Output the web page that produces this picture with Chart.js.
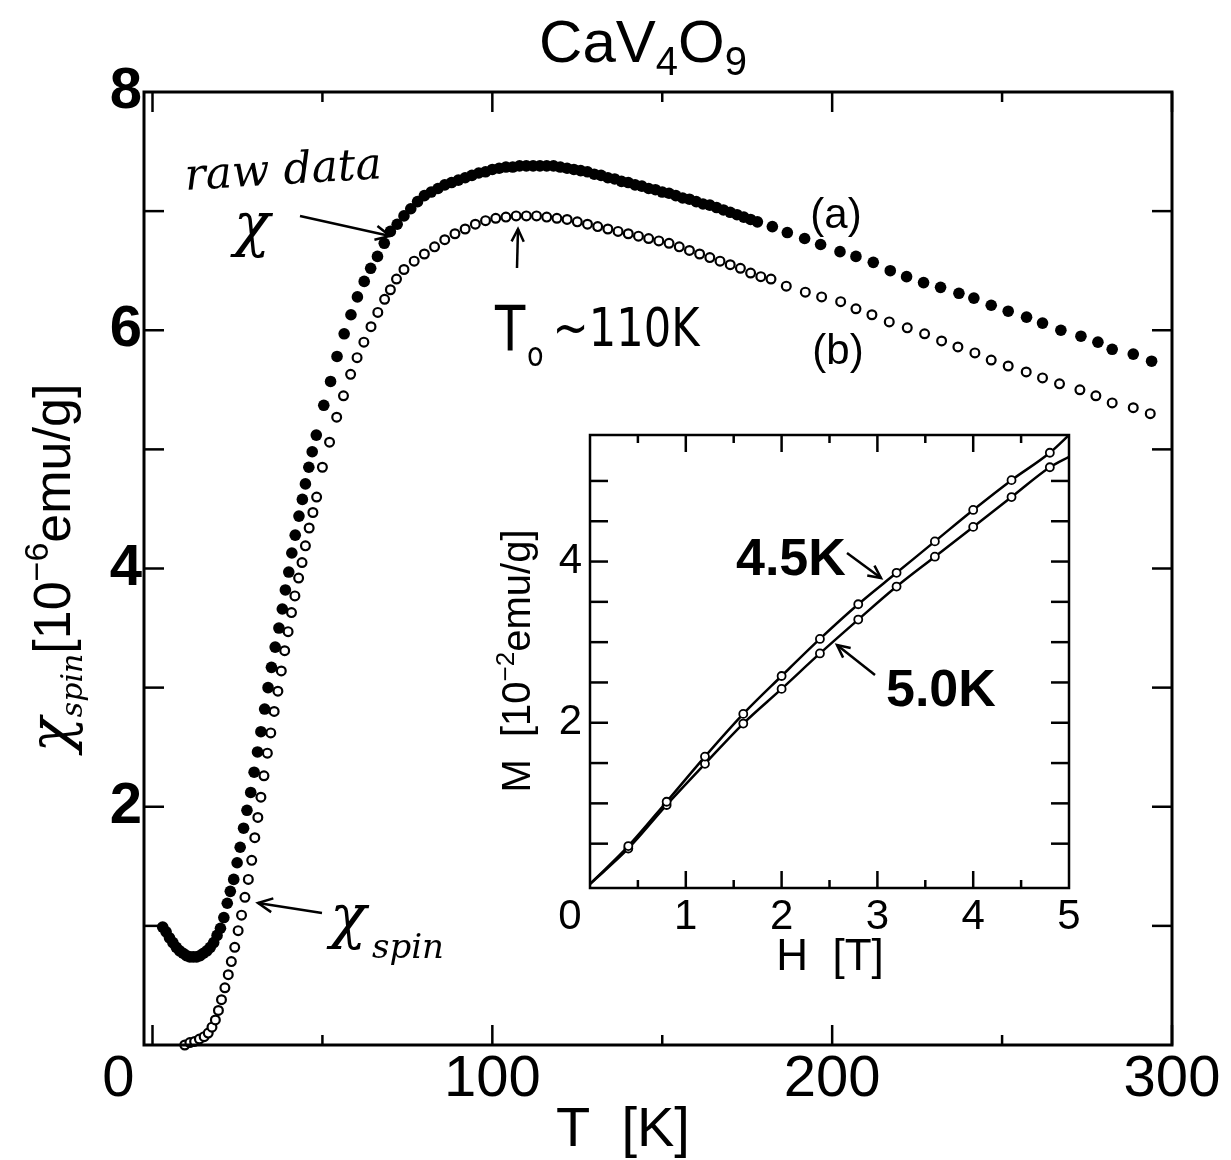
<!DOCTYPE html>
<html><head><meta charset="utf-8">
<script src="https://cdn.jsdelivr.net/npm/chart.js@4/dist/chart.umd.min.js"></script>
<style>
html,body{margin:0;padding:0;background:#fff;}
#wrap{position:relative;width:1231px;height:1160px;background:#fff;}
#main{position:absolute;left:0;top:0;}
#inset{position:absolute;left:490px;top:425px;}
</style></head><body>
<div id="wrap"><canvas id="main" width="1231" height="1160"></canvas><canvas id="inset" width="600" height="560"></canvas></div>
<script>
// ---- main chart data: (a) raw chi (filled), (b) chi_spin (open) ----
const aT = [3,4,5,6,7,8,9,10,11,12,13,14,15,16,17,18,19,20,21,
  22.0,22.9,23.9,24.9,25.8,26.8,27.8,28.9,29.9,30.9,31.9,33.0,34.0,35.0,36.1,37.2,38.2,39.1,40.1,41.0,42.0,43.1,44.1,45.0,46.0,47.0,48.2,
  50.4,52.4,54.3,56.4,58.4,60.3,62.3,64.2,66.2,68.2,
  70,72,74,76,78,80,82,84,86,88,90,92,94,96,98,100,102,104,106,108,110,112,114,116,118,120,122,124,126,128,130,132,134,136,138,140,142,144,146,148,150,152,154,156,158,160,162,164,166,168,170,172,174,176,178,
  182.4,186.8,191.9,196.6,202.3,207.0,212.1,217.1,221.9,226.9,231.9,237.3,241.7,246.8,251.8,257.2,261.9,267.3,273.2,278.2,282.4,288.6,294.0];
const aChi = [0.99,0.95,0.90,0.86,0.82,0.79,0.77,0.75,0.74,0.74,0.74,0.75,0.77,0.79,0.82,0.86,0.92,0.98,1.07,
  1.19,1.29,1.39,1.53,1.66,1.82,1.97,2.12,2.29,2.46,2.63,2.82,3.00,3.17,3.34,3.50,3.66,3.82,3.97,4.13,4.28,4.44,4.58,4.71,4.85,4.98,5.12,
  5.37,5.57,5.78,5.97,6.13,6.28,6.41,6.52,6.62,6.73,
  6.83,6.89,6.96,7.02,7.08,7.13,7.16,7.19,7.22,7.24,7.26,7.28,7.30,7.32,7.33,7.35,7.36,7.37,7.37,7.38,7.38,7.38,7.38,7.38,7.38,7.37,7.36,7.35,7.34,7.33,7.31,7.30,7.28,7.27,7.25,7.24,7.22,7.21,7.19,7.18,7.16,7.15,7.13,7.11,7.10,7.08,7.06,7.05,7.03,7.01,6.99,6.97,6.95,6.93,6.91,
  6.87,6.82,6.77,6.72,6.66,6.62,6.57,6.50,6.45,6.40,6.36,6.31,6.27,6.21,6.16,6.11,6.06,6.00,5.95,5.90,5.84,5.80,5.74];

const bT = [9.5,11.0,12.4,13.8,15.2,16.4,17.5,18.5,19.4,20.3,21.3,22.3,23.2,24.2,25.2,26.2,27.2,28.2,29.2,30.1,31.0,31.9,32.8,33.8,34.8,35.8,36.9,37.9,38.9,39.9,40.9,41.9,43.0,44.0,45.0,46.1,47.2,48.3,
  50.0,52.1,54.2,56.2,58.3,60.2,62.2,64.3,66.3,68.3,70.0,71.8,
  74,77,80,83,86,89,92,95,98,101,104,107,110,113,116,119,122,125,128,131,134,137,140,143,146,149,152,155,158,161,164,167,170,173,176,179,
  182.0,186.5,192.1,196.9,202.5,207.0,211.7,216.8,222.1,227.2,232.2,237.0,242.0,246.8,251.8,257.1,261.9,266.9,272.9,277.6,282.4,288.6,293.6];
const bChi = [0.00,0.02,0.03,0.05,0.07,0.10,0.15,0.21,0.29,0.38,0.48,0.59,0.70,0.82,0.96,1.09,1.24,1.39,1.55,1.74,1.91,2.08,2.26,2.45,2.62,2.80,2.97,3.14,3.31,3.47,3.63,3.77,3.92,4.05,4.19,4.34,4.47,4.60,
  4.85,5.06,5.27,5.45,5.63,5.77,5.90,6.03,6.15,6.26,6.34,6.43,
  6.51,6.58,6.64,6.70,6.76,6.81,6.85,6.89,6.92,6.94,6.95,6.96,6.96,6.96,6.95,6.94,6.93,6.91,6.89,6.87,6.85,6.83,6.81,6.79,6.77,6.75,6.73,6.70,6.67,6.64,6.61,6.58,6.55,6.52,6.48,6.45,
  6.43,6.37,6.32,6.28,6.24,6.18,6.13,6.07,6.02,5.97,5.91,5.86,5.81,5.75,5.70,5.65,5.60,5.55,5.50,5.45,5.39,5.35,5.30];

const xTickLabels = [100, 200, 300];
const xTickMarks = [0, 50, 100, 150, 200, 250, 300];
const yTickLabels = [2, 4, 6, 8];
const yTickMarks = [1, 2, 3, 4, 5, 6, 7];

// ---- inset data: magnetization curves ----
const hField = [0, 0.4, 0.8, 1.2, 1.6, 2.0, 2.4, 2.8, 3.2, 3.6, 4.0, 4.4, 4.8, 5.0];
const m45K = [0, 0.47, 1.02, 1.58, 2.11, 2.58, 3.04, 3.47, 3.86, 4.25, 4.64, 5.01, 5.35, 5.57];
const m50K = [0, 0.44, 0.98, 1.49, 1.99, 2.42, 2.86, 3.28, 3.69, 4.06, 4.43, 4.80, 5.17, 5.30];
const hTickLabels = [1, 2, 3, 4, 5];
const hTickMarks = [0.5, 1, 1.5, 2, 2.5, 3, 3.5, 4, 4.5];
const mTickLabels = [2, 4];
const mTickMarks = [0.5, 1, 1.5, 2, 2.5, 3, 3.5, 4, 4.5, 5];

const pts = (xs, ys) => xs.map((x, i) => ({x: x, y: ys[i]}));
const FONT = "'Liberation Sans', Arial, Helvetica, sans-serif";
const HAND = "'DejaVu Serif', serif";

function arrow(ctx, x1, y1, x2, y2, head) {
  head = head || 14;
  ctx.beginPath(); ctx.moveTo(x1, y1); ctx.lineTo(x2, y2); ctx.stroke();
  const a = Math.atan2(y2 - y1, x2 - x1);
  ctx.beginPath();
  ctx.moveTo(x2 - head * Math.cos(a - 0.45), y2 - head * Math.sin(a - 0.45));
  ctx.lineTo(x2, y2);
  ctx.lineTo(x2 - head * Math.cos(a + 0.45), y2 - head * Math.sin(a + 0.45));
  ctx.stroke();
}

function drawFrame(chart, xMarks, xMajor, xLen, xMinLen, yMarks, yLen, lw) {
  const ctx = chart.ctx, A = chart.chartArea, xs = chart.scales.x, ys = chart.scales.y;
  ctx.save();
  ctx.strokeStyle = '#000'; ctx.lineWidth = lw;
  ctx.strokeRect(A.left, A.top, A.right - A.left, A.bottom - A.top);
  ctx.lineWidth = 2.5;
  xMarks.forEach(v => {
    const px = xs.getPixelForValue(v);
    const len = xMajor(v) ? xLen : xMinLen;
    ctx.beginPath(); ctx.moveTo(px, A.bottom); ctx.lineTo(px, A.bottom - len); ctx.stroke();
    ctx.beginPath(); ctx.moveTo(px, A.top); ctx.lineTo(px, A.top + len); ctx.stroke();
  });
  yMarks.forEach(v => {
    const py = ys.getPixelForValue(v);
    ctx.beginPath(); ctx.moveTo(A.left, py); ctx.lineTo(A.left + yLen, py); ctx.stroke();
    ctx.beginPath(); ctx.moveTo(A.right, py); ctx.lineTo(A.right - yLen, py); ctx.stroke();
  });
  ctx.restore();
}

const noPad = s => { s.paddingTop = 0; s.paddingBottom = 0; s.paddingLeft = 0; s.paddingRight = 0; };

const mainDecor = {
  id: 'mainDecor',
  afterDraw(chart) {
    const ctx = chart.ctx, xs = chart.scales.x;
    drawFrame(chart, xTickMarks, v => v % 100 === 0, 20, 10, yTickMarks, 20, 3);
    ctx.save();
    ctx.fillStyle = '#000'; ctx.strokeStyle = '#000';
    // origin label
    ctx.font = 'normal 58px ' + FONT;
    ctx.textAlign = 'center'; ctx.textBaseline = 'middle';
    ctx.fillText('0', xs.getPixelForValue(0) - 34, 1080);
    // title CaV4O9
    ctx.textAlign = 'left'; ctx.textBaseline = 'alphabetic';
    const parts = [['CaV', 60, 0], ['4', 40, 13], ['O', 60, 0], ['9', 40, 13]];
    let tw = 0;
    parts.forEach(p => { ctx.font = p[1] + 'px ' + FONT; tw += ctx.measureText(p[0]).width; });
    let tx = 643 - tw / 2;
    parts.forEach(p => { ctx.font = p[1] + 'px ' + FONT; ctx.fillText(p[0], tx, 62 + p[2]); tx += ctx.measureText(p[0]).width; });
    // x title
    ctx.font = '56px ' + FONT; ctx.textAlign = 'center';
    ctx.fillText('T  [K]', 623, 1146);
    // y title rotated
    ctx.save();
    const yparts = [['\u03C7', 'italic 58px ' + HAND, 0], ['spin', 'italic 30px ' + HAND, 12], ['[10', '52px ' + FONT, 0], ['\u22126', '34px ' + FONT, -22], ['emu/g]', '52px ' + FONT, 0]];
    let yw = 0;
    yparts.forEach(p => { ctx.font = p[1]; yw += ctx.measureText(p[0]).width; });
    ctx.translate(70, 568 + yw / 2);
    ctx.rotate(-Math.PI / 2);
    ctx.textAlign = 'left';
    let yx = 0;
    yparts.forEach(p => { ctx.font = p[1]; ctx.fillText(p[0], yx, p[2]); yx += ctx.measureText(p[0]).width; });
    ctx.restore();
    // handwritten annotations
    ctx.save();
    ctx.translate(284, 184); ctx.rotate(-0.06);
    ctx.font = 'italic 44px ' + HAND; ctx.textAlign = 'center';
    ctx.fillText('raw data', 0, 0);
    ctx.restore();
    ctx.font = 'italic 60px ' + HAND; ctx.textAlign = 'center';
    ctx.fillText('\u03C7', 252, 245);
    ctx.lineWidth = 2.5;
    arrow(ctx, 300, 216, 390, 236, 16);
    ctx.font = '42px ' + FONT; ctx.textAlign = 'center';
    ctx.fillText('(a)', 836, 228);
    ctx.fillText('(b)', 838, 364);
    // T0 ~ 110K
    ctx.textAlign = 'left';
    ctx.save();
    ctx.translate(495, 0); ctx.scale(0.8, 1);
    ctx.font = '62px ' + "'DejaVu Sans', sans-serif";
    ctx.fillText('T', 0, 350);
    ctx.font = '34px ' + "'DejaVu Sans', sans-serif";
    ctx.fillText('o', 40, 366);
    ctx.font = '54px ' + "'DejaVu Sans', sans-serif";
    ctx.fillText('~110K', 72, 346);
    ctx.restore();
    arrow(ctx, 517, 268, 518, 229, 14);
    // chi_spin annotation
    ctx.font = 'italic 60px ' + HAND;
    ctx.fillText('\u03C7', 330, 937);
    ctx.font = 'italic 34px ' + HAND;
    ctx.fillText('spin', 372, 958);
    arrow(ctx, 322, 913, 258, 903, 16);
    ctx.restore();
  }
};

new Chart(document.getElementById('main'), {
  type: 'scatter',
  data: { datasets: [
    { label: '(a) raw \u03C7', data: pts(aT, aChi), pointRadius: 5.8, pointHoverRadius: 5.8,
      pointBackgroundColor: '#000', pointBorderColor: '#000', pointBorderWidth: 0, showLine: false, clip: false },
    { label: '(b) \u03C7spin', data: pts(bT, bChi), pointRadius: 4.4, pointHoverRadius: 4.4,
      pointBackgroundColor: '#fff', pointBorderColor: '#000', pointBorderWidth: 2.2, showLine: false, clip: false }
  ]},
  options: {
    responsive: false, animation: false, devicePixelRatio: 1,
    layout: { padding: { top: 92, right: 59, left: 0, bottom: 0 } },
    plugins: { legend: { display: false }, tooltip: { enabled: false } },
    scales: {
      x: { type: 'linear', min: -2.5, max: 300,
        grid: { display: false, drawTicks: false }, border: { display: false },
        afterBuildTicks: s => { s.ticks = xTickLabels.map(v => ({value: v})); },
        afterFit: s => { s.height = 115; noPad(s); },
        ticks: { font: { family: FONT, size: 58 }, color: '#000', padding: 0, maxRotation: 0, autoSkip: false } },
      y: { type: 'linear', min: 0, max: 8,
        grid: { display: false, drawTicks: false }, border: { display: false },
        afterBuildTicks: s => { s.ticks = yTickLabels.map(v => ({value: v})); },
        afterFit: s => { s.width = 144; noPad(s); },
        ticks: { font: { family: FONT, size: 58, weight: 'bold' }, color: '#000', padding: 2, autoSkip: false } }
    }
  },
  plugins: [mainDecor]
});

const insetDecor = {
  id: 'insetDecor',
  afterDraw(chart) {
    const ctx = chart.ctx, xs = chart.scales.x;
    drawFrame(chart, hTickMarks, v => Number.isInteger(v), 17, 8, mTickMarks, 18, 2.5);
    ctx.save();
    ctx.fillStyle = '#000'; ctx.strokeStyle = '#000';
    ctx.font = '42px ' + FONT; ctx.textAlign = 'center'; ctx.textBaseline = 'middle';
    ctx.fillText('0', xs.getPixelForValue(0) - 20, 492);
    ctx.textBaseline = 'alphabetic';
    ctx.font = '44px ' + FONT;
    ctx.fillText('H  [T]', 340, 545);
    // M title rotated
    ctx.save();
    const parts = [['M  [10', '40px ' + FONT, 0], ['\u22122', '26px ' + FONT, -16], ['emu/g]', '40px ' + FONT, 0]];
    let w = 0;
    parts.forEach(p => { ctx.font = p[1]; w += ctx.measureText(p[0]).width; });
    ctx.translate(40, 236 + w / 2); ctx.rotate(-Math.PI / 2);
    ctx.textAlign = 'left';
    let x = 0;
    parts.forEach(p => { ctx.font = p[1]; ctx.fillText(p[0], x, p[2]); x += ctx.measureText(p[0]).width; });
    ctx.restore();
    ctx.font = 'bold 52px ' + FONT; ctx.textAlign = 'left';
    ctx.fillText('4.5K', 246, 150);
    ctx.fillText('5.0K', 396, 281);
    ctx.lineWidth = 2.5;
    arrow(ctx, 357, 128, 391, 153, 14);
    arrow(ctx, 385, 250, 347, 220, 14);
    ctx.restore();
  }
};

const lineStyle = (data) => ({
  data: data, showLine: true, borderColor: '#000', borderWidth: 2.5,
  cubicInterpolationMode: 'monotone',
  pointRadius: ctx => (ctx.dataIndex === 0 || ctx.dataIndex === data.length - 1) ? 0 : 4,
  pointHoverRadius: 4,
  pointBackgroundColor: '#fff', pointBorderColor: '#000', pointBorderWidth: 1.8
});

new Chart(document.getElementById('inset'), {
  type: 'scatter',
  data: { datasets: [
    Object.assign({ label: '4.5K' }, lineStyle(pts(hField, m45K))),
    Object.assign({ label: '5.0K' }, lineStyle(pts(hField, m50K)))
  ]},
  options: {
    responsive: false, animation: false, devicePixelRatio: 1,
    layout: { padding: { top: 10, right: 21, left: 0, bottom: 0 } },
    plugins: { legend: { display: false }, tooltip: { enabled: false } },
    scales: {
      x: { type: 'linear', min: 0, max: 5,
        grid: { display: false, drawTicks: false }, border: { display: false },
        afterBuildTicks: s => { s.ticks = hTickLabels.map(v => ({value: v})); },
        afterFit: s => { s.height = 97; noPad(s); },
        ticks: { font: { family: FONT, size: 42 }, color: '#000', padding: 4, maxRotation: 0, autoSkip: false } },
      y: { type: 'linear', min: -0.05, max: 5.57,
        grid: { display: false, drawTicks: false }, border: { display: false },
        afterBuildTicks: s => { s.ticks = mTickLabels.map(v => ({value: v})); },
        afterFit: s => { s.width = 100; noPad(s); },
        ticks: { font: { family: FONT, size: 42 }, color: '#000', padding: 8, autoSkip: false } }
    }
  },
  plugins: [insetDecor]
});
</script>
</body></html>
